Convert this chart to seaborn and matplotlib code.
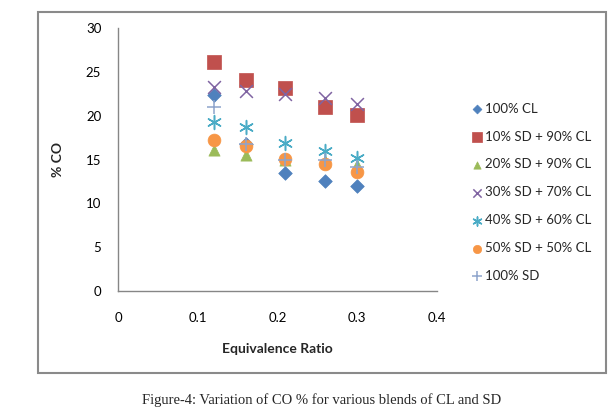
import matplotlib
matplotlib.use("Agg")
import matplotlib.pyplot as plt
import seaborn as sns
import pandas as pd
from matplotlib.patches import Rectangle

equiv_ratio = [0.12, 0.16, 0.21, 0.26, 0.30]
series_names = ["100% CL", "10% SD + 90% CL", "20% SD + 90% CL", "30% SD + 70% CL",
                "40% SD + 60% CL", "50% SD + 50% CL", "100% SD"]
co_100cl = [22.4, 16.8, 13.5, 12.6, 12.0]
co_10sd = [26.1, 24.1, 23.1, 21.0, 20.1]
co_20sd = [16.1, 15.5, 15.0, 14.8, 14.4]
co_30sd = [23.3, 22.8, 22.5, 22.0, 21.3]
co_40sd = [19.3, 18.7, 16.9, 16.0, 15.2]
co_50sd = [17.2, 16.5, 15.1, 14.5, 13.6]
co_100sd = [21.0, 16.8, 15.0, 15.0, 14.1]
x_ticks = [0, 0.1, 0.2, 0.3, 0.4]
y_ticks = [0, 5, 10, 15, 20, 25, 30]

values = [co_100cl, co_10sd, co_20sd, co_30sd, co_40sd, co_50sd, co_100sd]
colors = ["#4F81BD", "#C0504D", "#9BBB59", "#8064A2", "#4BACC6", "#F79646", "#8EA4CC"]
markers = ["D", "s", "^", "x", (6, 2, 0), "o", "+"]
sizes = [48, 100, 65, 85, 100, 85, 100]

sns.set_theme(style="white")
plt.rcParams["font.family"] = ["Lato", "DejaVu Sans"]

fig = plt.figure(figsize=(6.1, 4.15), dpi=100)
fig.patch.set_facecolor("white")
fig.add_artist(Rectangle((0.0623, 0.1012), 0.9311, 0.8698, transform=fig.transFigure,
                         fill=False, edgecolor="#8a8a8a", linewidth=1.5))

ax = fig.add_axes([0.1934, 0.2988, 0.523, 0.6337])
for name, vals, c, m, s in zip(series_names, values, colors, markers, sizes):
    df = pd.DataFrame({"Equivalence Ratio": equiv_ratio, "% CO": vals})
    filled = m in ("D", "s", "^", "o")
    if filled:
        sns.scatterplot(data=df, x="Equivalence Ratio", y="% CO", ax=ax, color=c,
                        marker=m, s=s, edgecolor=c, linewidth=0.5, label=name)
    else:
        sns.scatterplot(data=df, x="Equivalence Ratio", y="% CO", ax=ax, color=c,
                        marker=m, s=s, linewidth=1.1, label=name)

ax.set_xlim(0, 0.4)
ax.set_ylim(0, 30)
ax.set_xticks(x_ticks)
ax.set_xticklabels(["0", "0.1", "0.2", "0.3", "0.4"])
ax.set_yticks(y_ticks)
ax.tick_params(axis="both", length=0, labelsize=9.5, colors="black")
ax.tick_params(axis="x", pad=15)
ax.tick_params(axis="y", pad=12)
for side in ("top", "right"):
    ax.spines[side].set_visible(False)
for side in ("left", "bottom"):
    ax.spines[side].set_color("#868686")
    ax.spines[side].set_linewidth(1.0)
ax.set_xlabel("Equivalence Ratio", fontsize=10, fontweight="bold", labelpad=14)
ax.set_ylabel("% CO", fontsize=10, fontweight="bold", labelpad=16)
ax.grid(False)

leg = ax.legend(loc="upper left", bbox_to_anchor=(0.764, 0.765), bbox_transform=fig.transFigure,
                frameon=False, fontsize=9.5, labelspacing=1.2, handletextpad=0.2,
                handlelength=0.8, markerscale=0.65, borderaxespad=0)

fig.text(0.528, 0.035, "Figure-4: Variation of CO % for various blends of CL and SD",
         ha="center", va="center", fontsize=10.5, family=["Liberation Serif"])

fig.savefig("out.png", dpi=100, facecolor="white")
